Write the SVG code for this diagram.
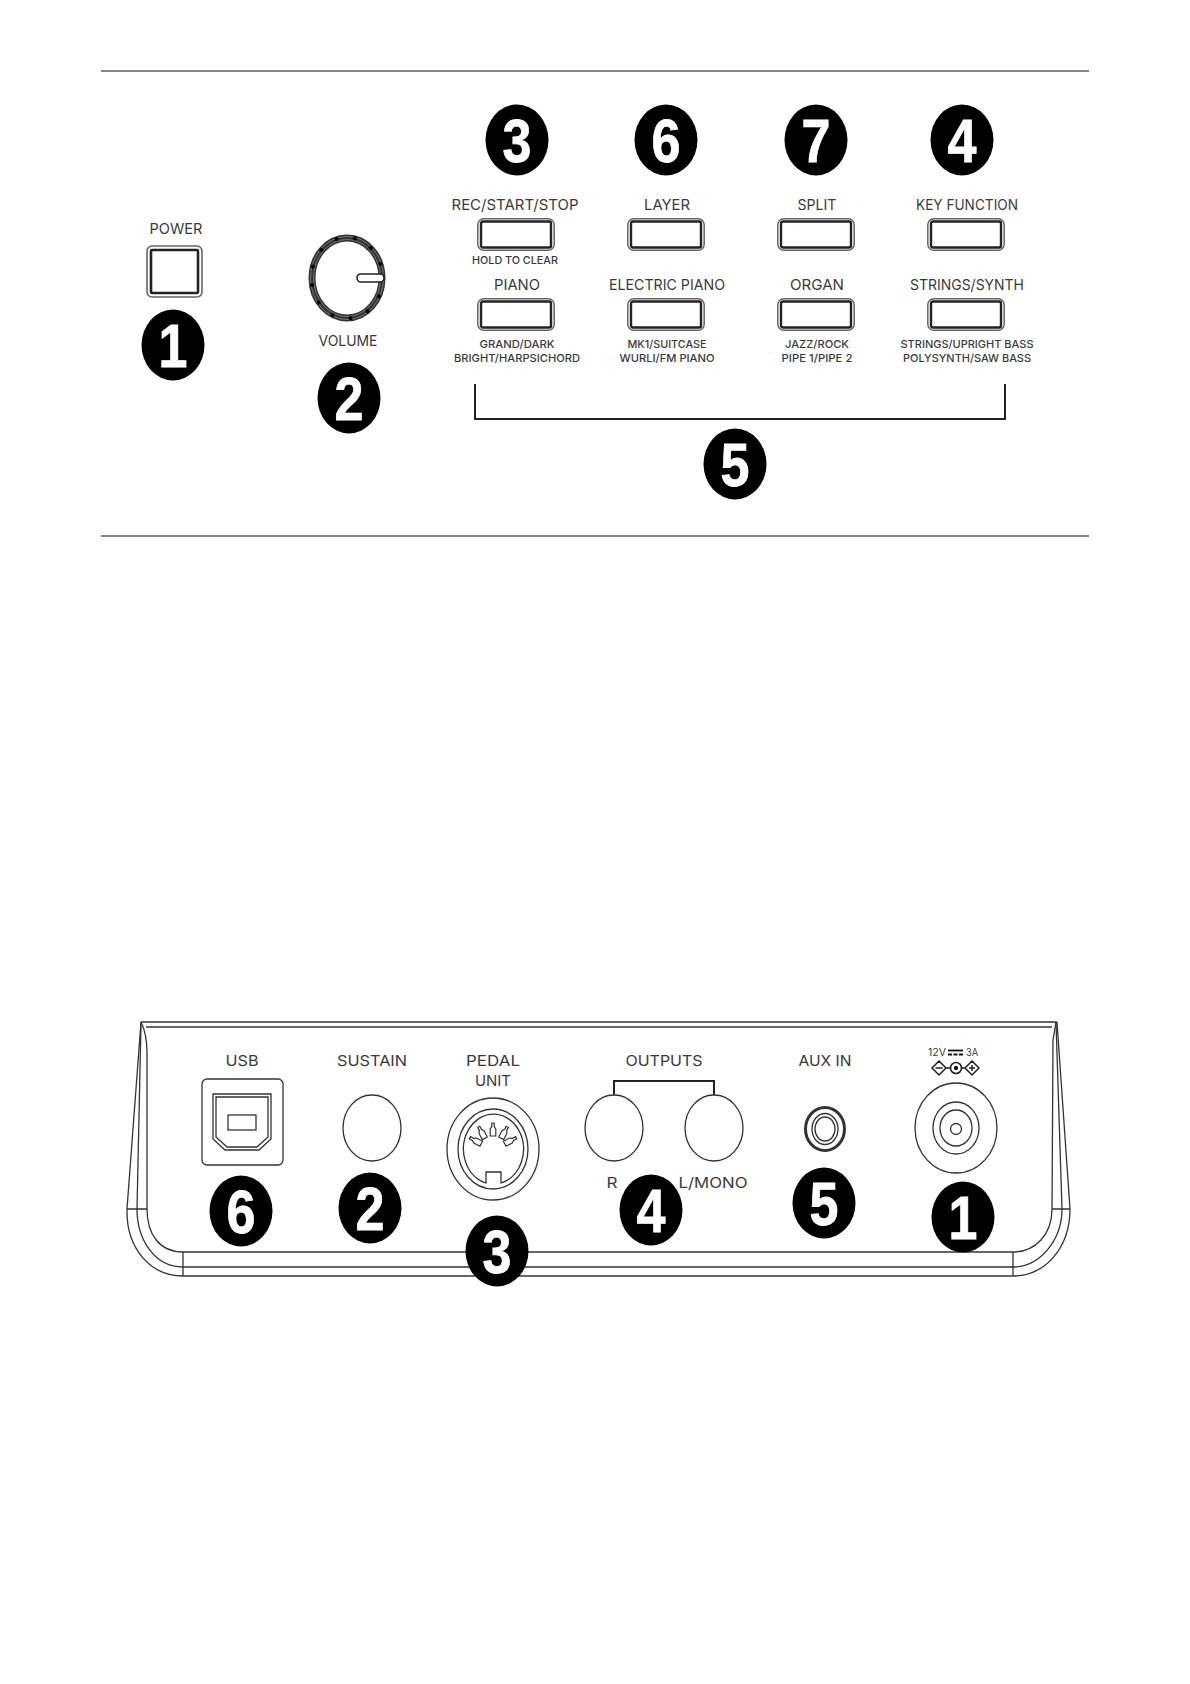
<svg xmlns="http://www.w3.org/2000/svg" width="1190" height="1684" viewBox="0 0 1190 1684">
<style>
.bg{fill:#fff}
.rule{stroke:#111;stroke-width:1.2;fill:none}
.ln{stroke:#333;stroke-width:1.3;fill:none}
.pin{stroke:#333;stroke-width:1.2;fill:#fff}
.br{stroke:#222;stroke-width:2;fill:none}
.l{font-family:"Inter","Liberation Sans",sans-serif;font-size:15px;fill:#3a3a3a;text-anchor:middle}
.s{font-family:"Inter","Liberation Sans",sans-serif;font-size:11px;font-weight:500;fill:#3a3a3a;text-anchor:middle}
.bd{fill:#000}
.n{font-family:"Liberation Sans",Arial,sans-serif;font-weight:700;font-size:62px;fill:#fff;stroke:#fff;stroke-width:.8;text-anchor:middle}
</style>
<defs>
<g id="btn">
<rect x="0.8" y="0.8" width="76.4" height="31.4" rx="6" fill="#fff" stroke="#666" stroke-width="1.5"/>
<rect x="4" y="3.5" width="70" height="26" rx="2" fill="#fff" stroke="#222" stroke-width="2.4"/>
</g>
<g id="num">
<ellipse class="bd" cx="0" cy="0" rx="31.5" ry="35.5"/>
</g>
<path id="pin" d="M-2.800 6V-1L-1.200 -3.500V-7H1.200V-3.500L2.800 -1V6Z"/>
</defs>
<rect class="bg" width="1190" height="1684"/>
<g id="rules">
<line class="rule" x1="101" y1="71" x2="1089" y2="71"/>
<line class="rule" x1="101" y1="536" x2="1089" y2="536"/>
</g>
<g id="rear-body">
<path class="ln" d="M141 1022H1057M146 1027H1052"/>
<path class="ln" d="M141 1022L127 1209C126 1248 150 1276 183 1276H1013C1045 1276 1070 1248 1070 1209L1057 1022"/>
<path class="ln" d="M141 1023L137 1209C137 1240 155 1267 183 1267H1013C1040 1267 1062 1240 1062 1209L1056 1022"/>
<path class="ln" d="M141 1022C145 1030 147 1040 147 1053V1209C147 1235 160 1252 183 1252H1013C1035 1252 1052 1235 1052 1209L1053 1040L1056 1022"/>
<path class="ln" d="M183 1252V1276M1013 1252V1276M127 1209H147M1052 1209H1070"/>
</g>
<g id="connectors">
<path class="br" d="M475 384V419H1005V384"/>
<path class="br" d="M614 1095V1081H714V1095"/>
</g>
<g id="power"><text class="l" x="176" y="234" textLength="53" lengthAdjust="spacingAndGlyphs">POWER</text>
<rect x="147" y="246" width="55" height="51" rx="5" fill="#fff" stroke="#666" stroke-width="1.6"/>
<rect x="151" y="250" width="47" height="43" rx="1" fill="#fff" stroke="#222" stroke-width="2.6"/></g>
<g id="volume">
<ellipse cx="347" cy="278" rx="35" ry="40" fill="#fff" stroke="#333" stroke-width="7"/>
<ellipse cx="347" cy="278" rx="36.500" ry="41.500" fill="none" stroke="#888" stroke-width="0.800"/>
<ellipse cx="347" cy="278" rx="33.500" ry="38.500" fill="none" stroke="#888" stroke-width="0.800"/>
<ellipse cx="347" cy="278" rx="35.500" ry="40.500" fill="none" stroke="#000" stroke-width="4" stroke-linecap="round" stroke-dasharray="0 18.700"/>
<rect x="357" y="274" width="27" height="8" rx="4" fill="#fff" stroke="#222" stroke-width="1.600"/>
<text class="l" x="348" y="346" textLength="59" lengthAdjust="spacingAndGlyphs">VOLUME</text></g>
<g id="btn-rec"><text class="l" x="515" y="210" textLength="127" lengthAdjust="spacingAndGlyphs">REC/START/STOP</text><use href="#btn" x="477" y="218"/><text class="s" x="515" y="264" textLength="86" lengthAdjust="spacingAndGlyphs">HOLD TO CLEAR</text></g>
<g id="btn-layer"><text class="l" x="667" y="210" textLength="46" lengthAdjust="spacingAndGlyphs">LAYER</text><use href="#btn" x="627" y="218"/></g>
<g id="btn-split"><text class="l" x="817" y="210" textLength="39" lengthAdjust="spacingAndGlyphs">SPLIT</text><use href="#btn" x="777" y="218"/></g>
<g id="btn-key"><text class="l" x="967" y="210" textLength="102" lengthAdjust="spacingAndGlyphs">KEY FUNCTION</text><use href="#btn" x="927" y="218"/></g>
<g id="btn-piano"><text class="l" x="517" y="290" textLength="46" lengthAdjust="spacingAndGlyphs">PIANO</text><use href="#btn" x="477" y="298"/><text class="s" x="517" y="348" textLength="75" lengthAdjust="spacingAndGlyphs">GRAND/DARK</text><text class="s" x="517" y="362" textLength="126" lengthAdjust="spacingAndGlyphs">BRIGHT/HARPSICHORD</text></g>
<g id="btn-epiano"><text class="l" x="667" y="290" textLength="116" lengthAdjust="spacingAndGlyphs">ELECTRIC PIANO</text><use href="#btn" x="627" y="298"/><text class="s" x="667" y="348" textLength="79" lengthAdjust="spacingAndGlyphs">MK1/SUITCASE</text><text class="s" x="667" y="362" textLength="95" lengthAdjust="spacingAndGlyphs">WURLI/FM PIANO</text></g>
<g id="btn-organ"><text class="l" x="817" y="290" textLength="54" lengthAdjust="spacingAndGlyphs">ORGAN</text><use href="#btn" x="777" y="298"/><text class="s" x="817" y="348" textLength="64" lengthAdjust="spacingAndGlyphs">JAZZ/ROCK</text><text class="s" x="817" y="362" textLength="71" lengthAdjust="spacingAndGlyphs">PIPE 1/PIPE 2</text></g>
<g id="btn-strings"><text class="l" x="967" y="290" textLength="114" lengthAdjust="spacingAndGlyphs">STRINGS/SYNTH</text><use href="#btn" x="927" y="298"/><text class="s" x="967" y="348" textLength="133" lengthAdjust="spacingAndGlyphs">STRINGS/UPRIGHT BASS</text><text class="s" x="967" y="362" textLength="128" lengthAdjust="spacingAndGlyphs">POLYSYNTH/SAW BASS</text></g>
<g id="usb"><text class="l" x="242" y="1066" textLength="33" lengthAdjust="spacingAndGlyphs">USB</text>
<rect class="ln" x="202" y="1079" width="81" height="86" rx="5"/>
<path class="ln" d="M213 1094H271V1139L259 1150H225L213 1139Z"/>
<path class="ln" d="M216 1097H268V1137L257 1147H227L216 1137Z"/>
<rect class="ln" x="228" y="1115" width="28" height="15" stroke-width="1.600"/></g>
<g id="sustain"><text class="l" x="372" y="1066" textLength="70" lengthAdjust="spacingAndGlyphs">SUSTAIN</text><ellipse class="ln" cx="372" cy="1128" rx="29" ry="33"/></g>
<g id="pedal"><text class="l" x="493" y="1066" textLength="54" lengthAdjust="spacingAndGlyphs">PEDAL</text><text class="l" x="493" y="1086" textLength="36" lengthAdjust="spacingAndGlyphs">UNIT</text>
<ellipse class="ln" cx="493" cy="1149" rx="46" ry="51"/><ellipse class="ln" cx="493" cy="1149" rx="35" ry="40"/>
<path class="ln" d="M486 1183V1172H501V1183A30 35 0 1 0 486 1183Z"/>
<use class="pin" href="#pin" transform="translate(493 1130)"/>
<use class="pin" href="#pin" transform="translate(482 1133) rotate(-28)"/>
<use class="pin" href="#pin" transform="translate(504 1133) rotate(28)"/>
<use class="pin" href="#pin" transform="translate(476 1141) rotate(-62)"/>
<use class="pin" href="#pin" transform="translate(510 1141) rotate(62)"/></g>
<g id="outputs"><text class="l" x="664" y="1066" textLength="77" lengthAdjust="spacingAndGlyphs">OUTPUTS</text>
<ellipse class="ln" cx="614" cy="1128" rx="29" ry="33"/><ellipse class="ln" cx="714" cy="1128" rx="29" ry="33"/>
<text class="l" x="612" y="1188" textLength="11" lengthAdjust="spacingAndGlyphs">R</text><text class="l" x="713" y="1188" textLength="69" lengthAdjust="spacingAndGlyphs">L/MONO</text></g>
<g id="aux"><text class="l" x="825" y="1066" textLength="53" lengthAdjust="spacingAndGlyphs">AUX IN</text>
<ellipse cx="825" cy="1129" rx="19.500" ry="21.500" fill="none" stroke="#333" stroke-width="3"/>
<ellipse class="ln" cx="825" cy="1129" rx="13" ry="15.500"/><ellipse class="ln" cx="825" cy="1129" rx="10" ry="12"/></g>
<g id="dc"><text font-family="Inter,'Liberation Sans',sans-serif" font-size="10.500" fill="#3a3a3a" x="928" y="1056" textLength="18" lengthAdjust="spacingAndGlyphs">12V</text>
<path stroke="#111" stroke-width="1.800" fill="none" d="M948 1050.500H963"/><path stroke="#111" stroke-width="1.800" fill="none" stroke-dasharray="4 1.500" d="M948 1054.500H963"/>
<text font-family="Inter,'Liberation Sans',sans-serif" font-size="10.500" fill="#3a3a3a" x="966" y="1056" textLength="12" lengthAdjust="spacingAndGlyphs">3A</text>
<path stroke="#222" stroke-width="1.500" fill="none" d="M939 1061L946 1068L939 1075L932 1068ZM965 1068L972 1061L979 1068L972 1075ZM935.500 1068H942.500M946 1068H950M962 1068H965M969 1068H975M972 1065V1071"/>
<circle cx="956" cy="1068" r="5.500" fill="#fff" stroke="#222" stroke-width="1.600"/><circle cx="956" cy="1068" r="2.200" fill="#111"/>
<ellipse class="ln" cx="956" cy="1128" rx="41" ry="45"/><ellipse class="ln" cx="956" cy="1128" rx="23" ry="26"/><ellipse class="ln" cx="956" cy="1128" rx="16" ry="18"/><circle class="ln" cx="956" cy="1129" r="5.500"/></g>
<g id="badge-top-1" transform="translate(173 345)"><use href="#num"/><text class="n" transform="scale(.84 1)" y="22">1</text></g>
<g id="badge-top-2" transform="translate(349 398)"><use href="#num"/><text class="n" transform="scale(.84 1)" y="22">2</text></g>
<g id="badge-top-3" transform="translate(517 140)"><use href="#num"/><text class="n" transform="scale(.84 1)" y="22">3</text></g>
<g id="badge-top-6" transform="translate(666 140)"><use href="#num"/><text class="n" transform="scale(.84 1)" y="22">6</text></g>
<g id="badge-top-7" transform="translate(816 140)"><use href="#num"/><text class="n" transform="scale(.84 1)" y="22">7</text></g>
<g id="badge-top-4" transform="translate(962 140)"><use href="#num"/><text class="n" transform="scale(.84 1)" y="22">4</text></g>
<g id="badge-top-5" transform="translate(735 464)"><use href="#num"/><text class="n" transform="scale(.84 1)" y="22">5</text></g>
<g id="badge-rear-6" transform="translate(241 1211)"><use href="#num"/><text class="n" transform="scale(.84 1)" y="22">6</text></g>
<g id="badge-rear-2" transform="translate(370 1208)"><use href="#num"/><text class="n" transform="scale(.84 1)" y="22">2</text></g>
<g id="badge-rear-3" transform="translate(497 1251)"><use href="#num"/><text class="n" transform="scale(.84 1)" y="22">3</text></g>
<g id="badge-rear-4" transform="translate(651 1210)"><use href="#num"/><text class="n" transform="scale(.84 1)" y="22">4</text></g>
<g id="badge-rear-5" transform="translate(824 1203)"><use href="#num"/><text class="n" transform="scale(.84 1)" y="22">5</text></g>
<g id="badge-rear-1" transform="translate(963 1217)"><use href="#num"/><text class="n" transform="scale(.84 1)" y="22">1</text></g>
</svg>
